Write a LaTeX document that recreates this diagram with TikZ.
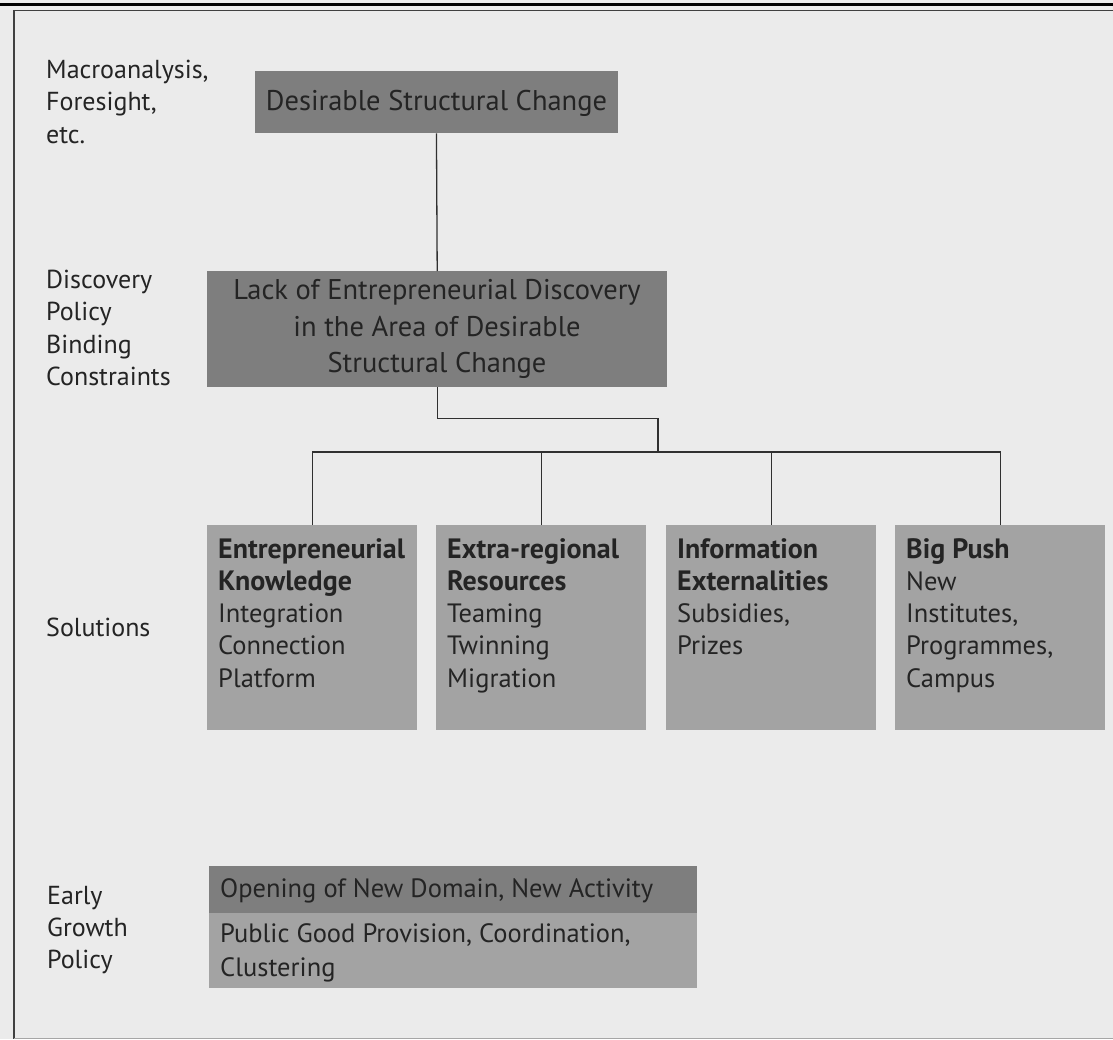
\documentclass[tikz,border=0pt]{standalone}
\usepackage{fontspec}
\setmainfont{PT Sans}
\definecolor{paper}{HTML}{EBEBEB}
\definecolor{darkfill}{HTML}{7E7E7E}
\definecolor{lightfill}{HTML}{A3A3A3}
\definecolor{ink}{HTML}{242424}
\definecolor{wire}{HTML}{303030}
\begin{document}
\begin{tikzpicture}[x=1pt,y=-1pt,
  txt/.style={anchor=base west, inner sep=0pt, text=ink, font=\fontsize{26.5}{32}\selectfont},
  lbl/.style={txt, font=\fontsize{26}{32}\selectfont},
  ctxt/.style={anchor=base, inner sep=0pt, text=ink, font=\fontsize{28.5}{36}\selectfont},
  btxt/.style={txt, font=\fontsize{28}{32}\selectfont\bfseries},
  darkbox/.style={fill=darkfill, draw=none, inner sep=0pt, anchor=north west},
  lightbox/.style={fill=lightfill, draw=none, inner sep=0pt, anchor=north west},
  wirestyle/.style={draw=wire, line width=1.3pt}]
% canvas
\fill[paper] (0,0) rectangle (1113,1039);
\useasboundingbox (0,0) rectangle (1113,1039);
% page rule and frame
\draw[black, line width=2.4pt] (0,4.5) -- (1113,4.5);
\draw[draw=black!75, line width=1.6pt] (1113,10.5) -- (14,10.5) -- (14,1039);
\draw[draw=black!35, line width=0.8pt] (14,1038) -- (1113,1038);

% left labels
\node[lbl] (l1) at (46,78) {Macroanalysis,};
\node[lbl] (l2) at (46,110.5) {Foresight,};
\node[lbl] (l3) at (46,143) {etc.};
\node[lbl] (l4) at (46,288) {Discovery};
\node[lbl] (l5) at (46,320.5) {Policy};
\node[lbl] (l6) at (46,353) {Binding};
\node[lbl] (l7) at (46,385) {Constraints};
\node[lbl] (l8) at (46,636) {Solutions};
\node[lbl] (l9) at (47,904) {Early};
\node[lbl] (l10) at (47,936) {Growth};
\node[lbl] (l11) at (47,968) {Policy};

% top boxes
\node[darkbox, minimum width=362.5pt, minimum height=62pt] (dsc) at (255,71) {};
\node[ctxt] (dsct) at (436.5,110) {Desirable Structural Change};

\node[darkbox, minimum width=460pt, minimum height=116pt] (lack) at (207,271) {};
\node[ctxt] (lackt1) at (437,299) {Lack of Entrepreneurial Discovery};
\node[ctxt] (lackt2) at (437,336) {in the Area of Desirable};
\node[ctxt] (lackt3) at (437,372) {Structural Change};

% solution boxes
\node[lightbox, minimum width=210pt, minimum height=205pt] (ek) at (207,525) {};
\node[lightbox, minimum width=210pt, minimum height=205pt] (er) at (436,525) {};
\node[lightbox, minimum width=210pt, minimum height=205pt] (ie) at (666,525) {};
\node[lightbox, minimum width=210pt, minimum height=205pt] (bp) at (895,525) {};

\node[btxt] (ek1) at (218,558) {Entrepreneurial};
\node[btxt] (ek2) at (218,590.3) {Knowledge};
\node[txt]  (ek3) at (218,622.6) {Integration};
\node[txt]  (ek4) at (218,654.9) {Connection};
\node[txt]  (ek5) at (218,687.2) {Platform};

\node[btxt] (er1) at (447,558) {Extra-regional};
\node[btxt] (er2) at (447,590.3) {Resources};
\node[txt]  (er3) at (447,622.6) {Teaming};
\node[txt]  (er4) at (447,654.9) {Twinning};
\node[txt]  (er5) at (447,687.2) {Migration};

\node[btxt] (ie1) at (677,558) {Information};
\node[btxt] (ie2) at (677,590.3) {Externalities};
\node[txt]  (ie3) at (677,622.6) {Subsidies,};
\node[txt]  (ie4) at (677,654.9) {Prizes};

\node[btxt] (bp1) at (906,558) {Big Push};
\node[txt]  (bp2) at (906,590.3) {New};
\node[txt]  (bp3) at (906,622.6) {Institutes,};
\node[txt]  (bp4) at (906,654.9) {Programmes,};
\node[txt]  (bp5) at (906,687.2) {Campus};

% early growth policy boxes
\node[darkbox, minimum width=488pt, minimum height=47pt] (open) at (209,866) {};
\node[lightbox, minimum width=488pt, minimum height=75pt] (pub) at (209,913) {};
\node[txt] (open1) at (220,897) {Opening of New Domain, New Activity};
\node[txt] (pub1) at (220,942) {Public Good Provision, Coordination,};
\node[txt] (pub2) at (220,976) {Clustering};

% connectors
\coordinate (busmid) at (658,452);
\draw[wirestyle] (dsc.south) -- (lack.north);
\draw[wirestyle] (lack.south) -- ++(0,31) -| (busmid);
\draw[wirestyle] (ek.north) |- (busmid) -| (bp.north);
\draw[wirestyle] (er.north) -- (er.north |- busmid);
\draw[wirestyle] (ie.north) -- (ie.north |- busmid);
\end{tikzpicture}
\end{document}
